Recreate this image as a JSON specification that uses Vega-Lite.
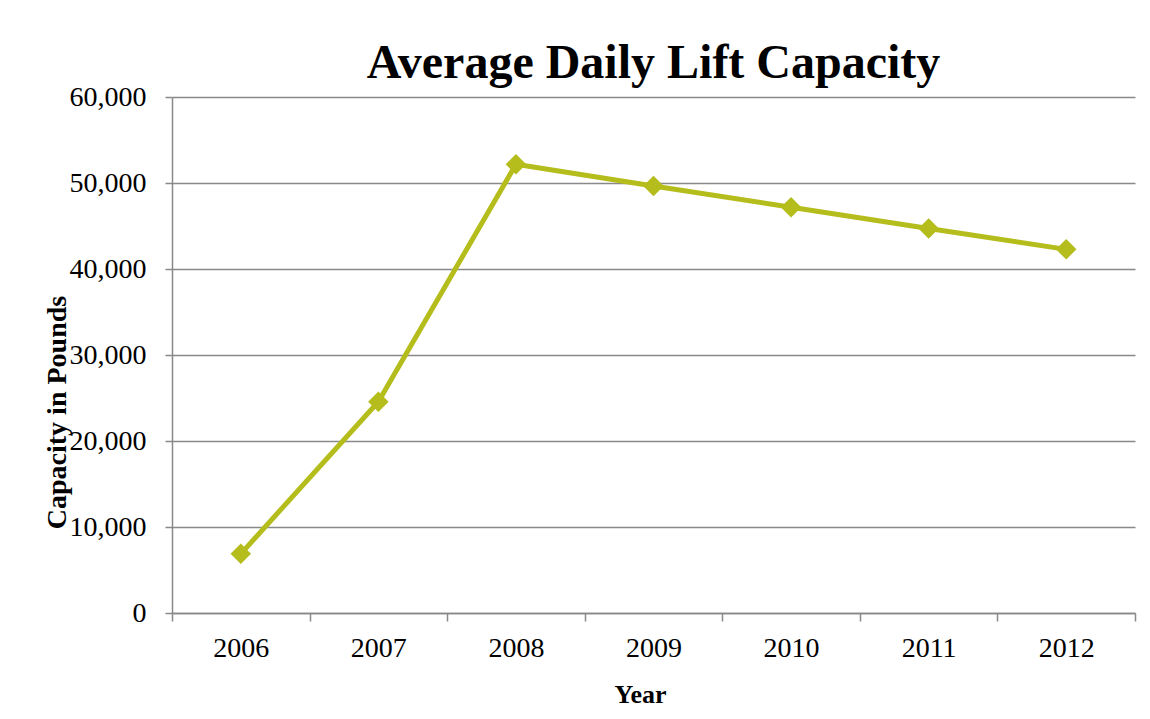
{
  "$schema": "https://vega.github.io/schema/vega-lite/v6.json",
  "autosize": {"type": "none"},
  "width": 963,
  "height": 516,
  "padding": {"left": 172, "top": 97, "right": 15, "bottom": 106},
  "background": "white",
  "title": {
    "text": "Average Daily Lift Capacity",
    "font": "Liberation Serif",
    "fontSize": 48,
    "fontWeight": "bold",
    "color": "black",
    "anchor": "middle",
    "frame": "group",
    "baseline": "alphabetic",
    "offset": -43
  },
  "data": {
    "values": [
      {"Year": "2006", "Capacity": 6880},
      {"Year": "2007", "Capacity": 24570},
      {"Year": "2008", "Capacity": 52170},
      {"Year": "2009", "Capacity": 49650},
      {"Year": "2010", "Capacity": 47190},
      {"Year": "2011", "Capacity": 44720},
      {"Year": "2012", "Capacity": 42285}
    ]
  },
  "encoding": {
    "x": {
      "field": "Year",
      "type": "ordinal",
      "scale": {"type": "band", "paddingInner": 0, "paddingOuter": 0},
      "axis": {
        "title": "Year",
        "titleFont": "Liberation Serif",
        "titleFontSize": 26,
        "titleFontWeight": "bold",
        "titleColor": "black",
        "titleX": 468,
        "titleY": 89,
        "titleBaseline": "alphabetic",
        "titleAlign": "center",
        "labelFont": "Liberation Serif",
        "labelFontSize": 28,
        "labelColor": "black",
        "labelAngle": 0,
        "labelBaseline": "alphabetic",
        "labelPadding": 35,
        "tickBand": "extent",
        "tickSize": 8,
        "tickColor": "#898989",
        "tickWidth": 1.5,
        "domainColor": "#898989",
        "domainWidth": 1.5,
        "grid": false
      }
    },
    "y": {
      "field": "Capacity",
      "type": "quantitative",
      "scale": {"domain": [0, 60000], "nice": false},
      "axis": {
        "title": "Capacity in Pounds",
        "titleFont": "Liberation Serif",
        "titleFontSize": 28,
        "titleFontWeight": "bold",
        "titleColor": "black",
        "titleAngle": 270,
        "titleX": -107,
        "titleY": 315,
        "titleBaseline": "alphabetic",
        "titleAlign": "center",
        "values": [0, 10000, 20000, 30000, 40000, 50000, 60000],
        "format": ",.0f",
        "labelFont": "Liberation Serif",
        "labelFontSize": 28,
        "labelColor": "black",
        "labelPadding": 19,
        "tickSize": 7,
        "tickColor": "#898989",
        "tickWidth": 1.5,
        "domainColor": "#898989",
        "domainWidth": 1.5,
        "grid": true,
        "gridColor": "#898989",
        "gridWidth": 1.5
      }
    }
  },
  "layer": [
    {"mark": {"type": "line", "color": "#b4bd1b", "strokeWidth": 5}},
    {"mark": {"type": "point", "shape": "diamond", "filled": true, "color": "#b4bd1b", "opacity": 1, "size": 420}}
  ],
  "config": {"view": {"stroke": null}}
}
